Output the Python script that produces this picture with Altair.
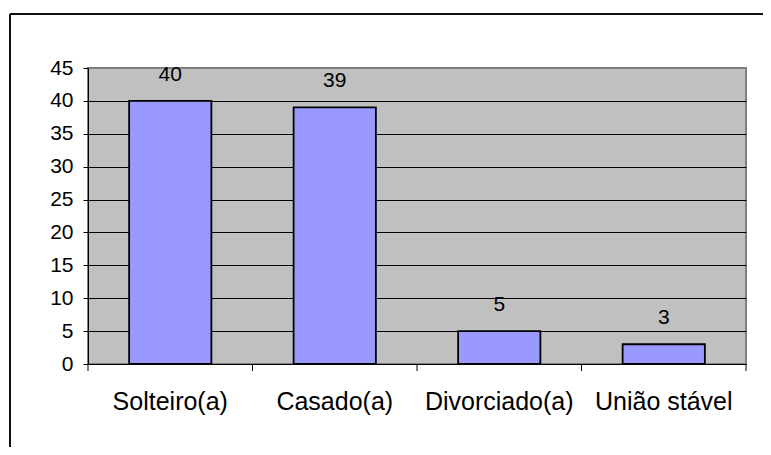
import altair as alt
import pandas as pd

categories = ["Solteiro(a)", "Casado(a)", "Divorciado(a)", "União stável"]
values = [40, 39, 5, 3]

df = pd.DataFrame({"cat": categories, "val": values})
FONT = "Liberation Sans"

W, H = 658, 296
STEP = W / len(categories)

x_axis = alt.Axis(
    title=None, labelAngle=0, labelFontSize=25, labelFont=FONT, labelColor="black",
    ticks=False, domainColor="black", labelPadding=25, grid=False,
)
x_scale = alt.Scale(paddingInner=0.5, paddingOuter=0.25)
x_enc = alt.X("cat:N", sort=categories, scale=x_scale, axis=x_axis)
y_enc = alt.Y(
    "val:Q",
    scale=alt.Scale(domain=[0, 45], nice=False),
    axis=alt.Axis(
        title=None, values=list(range(0, 50, 5)), labelFontSize=21, labelFont=FONT,
        labelColor="black", tickSize=5, tickColor="black", domainColor="black",
        labelPadding=10, grid=True,
        gridColor={"condition": {"test": "datum.value === 45", "value": "#808080"}, "value": "black"},
        gridWidth=1,
    ),
)

base = alt.Chart(df)

bars = base.mark_bar(color="#9999FF", stroke="black", strokeWidth=1.8).encode(x=x_enc, y=y_enc)
labels = base.mark_text(font=FONT, fontSize=21, color="black", baseline="alphabetic", dy=-20).encode(
    x=x_enc, y=y_enc, text="val:Q"
)
# category-boundary tick marks below the x axis
ticks_start = base.mark_rule(color="black", strokeWidth=1, clip=False, xOffset=-STEP / 4).encode(
    x=alt.X("cat:N", sort=categories, bandPosition=0, axis=x_axis, scale=x_scale),
    y=alt.value(H), y2=alt.value(H + 7),
)
ticks_end = base.transform_filter(alt.datum.cat == categories[-1]).mark_rule(
    color="black", strokeWidth=1, clip=False, xOffset=STEP / 4
).encode(
    x=alt.X("cat:N", sort=categories, bandPosition=1, axis=x_axis, scale=x_scale),
    y=alt.value(H), y2=alt.value(H + 7),
)
frame = base.mark_rect(fill=None, stroke="black", strokeWidth=1, clip=False).encode(
    x=alt.value(-78), x2=alt.value(800), y=alt.value(-54), y2=alt.value(500)
)

chart = (
    alt.layer(frame, bars, labels, ticks_start, ticks_end)
    .properties(
        width=W, height=H,
        autosize=alt.AutoSizeParams(type="none"),
        padding={"left": 80, "top": 60, "right": 17, "bottom": 83},
        background="white",
    )
    .configure_view(fill="#C0C0C0", stroke="#808080", strokeWidth=2)
)

chart.save("out.html", embed_options={"renderer": "svg", "actions": False})
